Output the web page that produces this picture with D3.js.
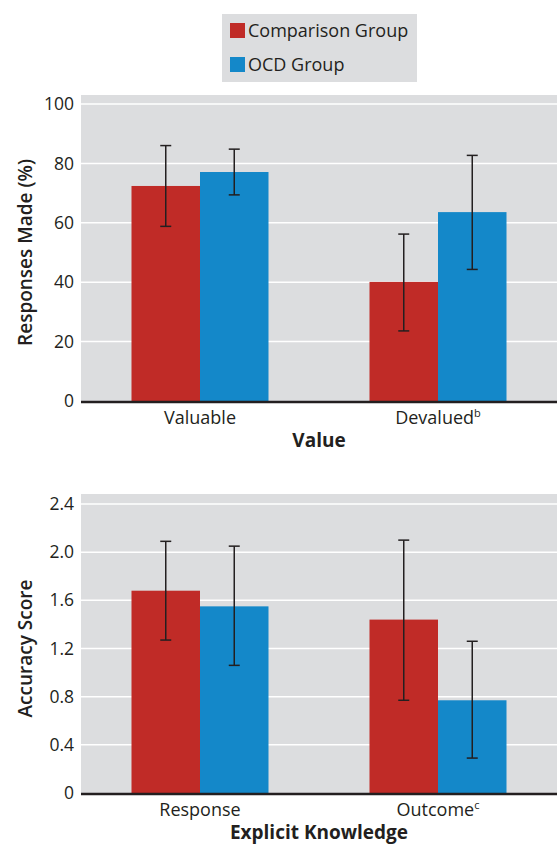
<!DOCTYPE html>
<html>
<head>
<meta charset="utf-8">
<script src="https://cdn.jsdelivr.net/npm/d3@7"></script>
<style>
  body { margin: 0; background: #fff; }
  text { font-family: "Open Sans", "DejaVu Sans", sans-serif; fill: #231f20; }
</style>
</head>
<body>
<div id="chart"></div>
<script>
// data
groups = ["Comparison Group", "OCD Group"]
colors = ["#c02b27", "#1488c9"]

valueCats = ["Valuable", "Devalued"]
valueSup = ["", "b"]
valueMean = [[72.4, 77.1], [40.1, 63.6]]
valueLow = [[58.8, 69.4], [23.6, 44.3]]
valueHigh = [[86.0, 84.8], [56.2, 82.7]]
valueTicks = [0, 20, 40, 60, 80, 100]

knowCats = ["Response", "Outcome"]
knowSup = ["", "c"]
knowMean = [[1.68, 1.55], [1.44, 0.77]]
knowLow = [[1.27, 1.06], [0.77, 0.29]]
knowHigh = [[2.09, 2.05], [2.10, 1.26]]
knowTicks = [0, 0.4, 0.8, 1.2, 1.6, 2.0, 2.4]

width = 557
height = 844

svg = d3.select("#chart").append("svg")
  .attr("width", width)
  .attr("height", height)

// legend
legend = svg.append("g")
legend.append("rect")
  .attr("x", 222).attr("y", 14)
  .attr("width", 195).attr("height", 68)
  .style("fill", "#dcdddf")
legend.selectAll("rect.key")
  .data(groups)
  .join("rect")
  .attr("class", "key")
  .attr("x", 230)
  .attr("y", (d, i) => 23 + i * 34)
  .attr("width", 15).attr("height", 15)
  .style("fill", (d, i) => colors[i])
legend.selectAll("text")
  .data(groups)
  .join("text")
  .attr("x", 248)
  .attr("y", (d, i) => 37 + i * 34)
  .attr("font-size", "18px")
  .text(d => d)

function panel(opt) {
  var left = 81, right = 557
  var g = svg.append("g")

  var x = d3.scaleBand().domain(opt.cats).range([left, right])
  var xs = d3.scaleBand().domain(groups).range([0, 137])
  var y = d3.scaleLinear().domain([0, opt.max]).range([opt.y0, opt.yTop])

  // background
  g.append("rect")
    .attr("x", left).attr("y", opt.bgTop)
    .attr("width", right - left).attr("height", opt.y0 - opt.bgTop)
    .style("fill", "#dcdddf")

  // grid
  g.selectAll("line.grid")
    .data(opt.ticks.slice(1))
    .join("line")
    .attr("class", "grid")
    .attr("x1", left).attr("x2", right)
    .attr("y1", d => y(d)).attr("y2", d => y(d))
    .style("stroke", "#fff")
    .style("stroke-width", 1.5)

  // y axis labels
  var ya = g.append("g")
    .attr("transform", "translate(" + left + ",0)")
    .call(d3.axisLeft(y).tickValues(opt.ticks).tickSize(0).tickPadding(7).tickFormat(opt.fmt))
  ya.select(".domain").remove()
  ya.selectAll("text").attr("font-size", "17.5px").style("font-family", null)

  // bars
  opt.cats.forEach(function(c, ci) {
    var x0 = x(c) + (x.bandwidth() - 137) / 2
    groups.forEach(function(gname, gi) {
      g.append("rect")
        .attr("x", x0 + xs(gname))
        .attr("y", y(opt.mean[ci][gi]))
        .attr("width", xs.bandwidth())
        .attr("height", y(0) - y(opt.mean[ci][gi]))
        .style("fill", colors[gi])

      var cx = x0 + xs(gname) + xs.bandwidth() / 2
      var eb = g.append("g").style("stroke", "#231f20").style("stroke-width", 1.5)
      eb.append("line")
        .attr("x1", cx).attr("x2", cx)
        .attr("y1", y(opt.high[ci][gi])).attr("y2", y(opt.low[ci][gi]))
      eb.append("line")
        .attr("x1", cx - 5.5).attr("x2", cx + 5.5)
        .attr("y1", y(opt.high[ci][gi])).attr("y2", y(opt.high[ci][gi]))
      eb.append("line")
        .attr("x1", cx - 5.5).attr("x2", cx + 5.5)
        .attr("y1", y(opt.low[ci][gi])).attr("y2", y(opt.low[ci][gi]))
    })
  })

  // x axis line
  g.append("line")
    .attr("x1", left).attr("x2", right)
    .attr("y1", y(0) + 1).attr("y2", y(0) + 1)
    .style("stroke", "#231f20")
    .style("stroke-width", 2.5)

  // category labels
  var lab = g.selectAll("text.cat")
    .data(opt.cats)
    .join("text")
    .attr("class", "cat")
    .attr("x", d => x(d) + x.bandwidth() / 2)
    .attr("y", y(0) + 23)
    .attr("text-anchor", "middle")
    .attr("font-size", "18px")
  lab.append("tspan").text(d => d)
  lab.append("tspan")
    .attr("font-size", "11px")
    .attr("dy", -7)
    .text((d, i) => opt.sup[i])

  // axis titles
  g.append("text")
    .attr("x", (left + right) / 2)
    .attr("y", y(0) + 46)
    .attr("text-anchor", "middle")
    .attr("font-size", "19px")
    .attr("font-weight", "bold")
    .text(opt.xTitle)

  g.append("text")
    .attr("transform", "translate(" + 32 + "," + ((opt.y0 + opt.yTop) / 2) + ") rotate(-90)")
    .attr("text-anchor", "middle")
    .attr("font-size", "19px")
    .attr("font-weight", 600)
    .text(opt.yTitle)
}

panel({
  cats: valueCats, sup: valueSup, mean: valueMean, low: valueLow, high: valueHigh,
  ticks: valueTicks, max: 100, y0: 401, yTop: 104, bgTop: 95,
  fmt: d3.format("d"), xTitle: "Value", yTitle: "Responses Made (%)"
})

panel({
  cats: knowCats, sup: knowSup, mean: knowMean, low: knowLow, high: knowHigh,
  ticks: knowTicks, max: 2.4, y0: 793, yTop: 504, bgTop: 494,
  fmt: d => d === 0 ? "0" : d3.format(".1f")(d), xTitle: "Explicit Knowledge", yTitle: "Accuracy Score"
})
</script>
</body>
</html>
